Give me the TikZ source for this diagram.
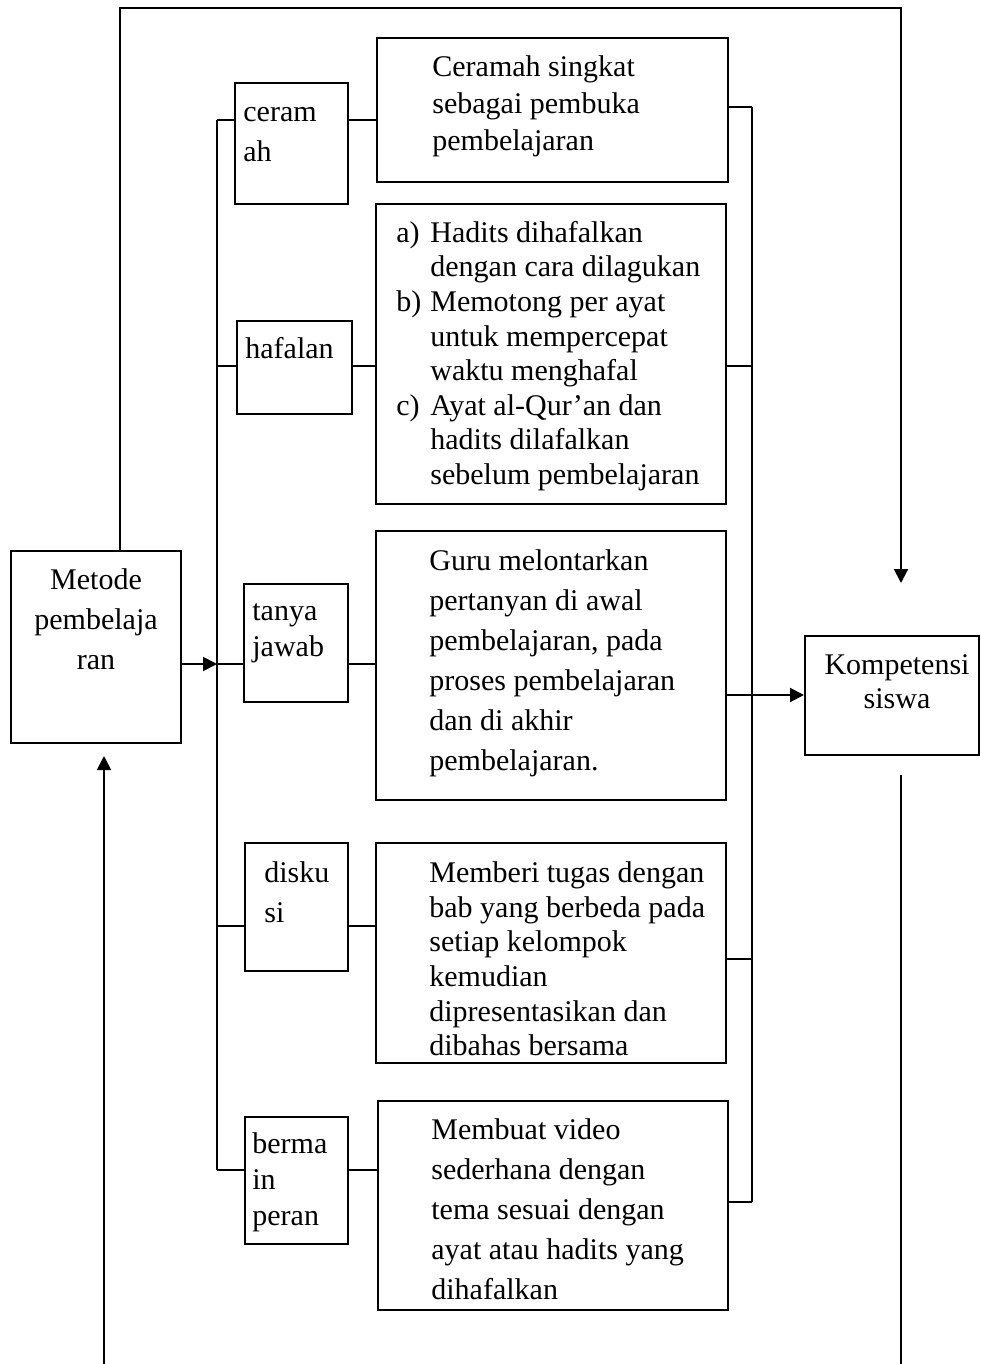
\documentclass[tikz,border=0pt]{standalone}
\usepackage{fontspec}
\setmainfont{Liberation Serif}
\usetikzlibrary{fit,arrows.meta,calc}

\tikzset{
  box/.style={draw, line width=1pt, inner sep=0pt},
  txt/.style={inner sep=0pt, align=left, font=\fontsize{15}{#1}\selectfont},
  txt/.default=20,
  link/.style={line width=1pt},
  arr/.style={line width=1pt, -{Triangle[length=7pt,width=7pt]}}
}

\begin{document}
\begin{tikzpicture}[x=0.5pt, y=-0.5pt]
	\useasboundingbox (0,0) rectangle (980,1364);
	% boxes
	\node[box, fit={(11,551) (181,743)}] (metode) {};
	\node[box, fit={(235,83) (348,204)}] (ceramah) {};
	\node[box, fit={(237,321) (352,414)}] (hafalan) {};
	\node[box, fit={(244,584) (348,702)}] (tanya) {};
	\node[box, fit={(245,843) (348,971)}] (diskusi) {};
	\node[box, fit={(245,1117) (348,1244)}] (bermain) {};
	\node[box, fit={(377,38) (728,182)}] (rCeramah) {};
	\node[box, fit={(376,204) (726,504)}] (rHafalan) {};
	\node[box, fit={(376,531) (726,800)}] (rTanya) {};
	\node[box, fit={(376,843) (726,1063)}] (rDiskusi) {};
	\node[box, fit={(378,1101) (728,1310)}] (rBermain) {};
	\node[box, fit={(805,636) (979,755)}] (komp) {};
	% texts
	\node[txt, align=center] (metodeT) at (96,619) {Metode\\pembelaja\\ran};
	\node[txt, anchor=west] (ceramahT) at (243,135) {ceram\\ah};
	\node[txt, anchor=west] (hafalanT) at (245,348) {hafalan};
	\node[txt=18, anchor=west] (tanyaT) at (252,633) {tanya\\jawab};
	\node[txt, anchor=west] (diskusiT) at (264,892) {disku\\si};
	\node[txt=18, anchor=west] (bermainT) at (252,1182) {berma\\in\\peran};
	\node[txt=18.5, anchor=west] (rCeramahT) at (432,106) {Ceramah singkat\\sebagai pembuka\\pembelajaran};
	\node[txt=17.3, anchor=west] (rHafalanT) at (396,356) {\makebox[17pt][l]{a)}Hadits dihafalkan\\
		\hspace*{17pt}dengan cara dilagukan\\
		\makebox[17pt][l]{b)}Memotong per ayat\\
		\hspace*{17pt}untuk mempercepat\\
		\hspace*{17pt}waktu menghafal\\
		\makebox[17pt][l]{c)}Ayat al-Qur’an dan\\
		\hspace*{17pt}hadits dilafalkan\\
		\hspace*{17pt}sebelum pembelajaran};
	\node[txt, anchor=west] (rTanyaT) at (429,663) {Guru melontarkan\\pertanyan di awal\\pembelajaran, pada\\proses pembelajaran\\dan di akhir\\pembelajaran.};
	\node[txt=17.3, anchor=west] (rDiskusiT) at (429,959) {Memberi tugas dengan\\bab yang berbeda pada\\setiap kelompok\\kemudian\\dipresentasikan dan\\dibahas bersama};
	\node[txt, anchor=west] (rBermainT) at (431,1209) {Membuat video\\sederhana dengan\\tema sesuai dengan\\ayat atau hadits yang\\dihafalkan};
	\node[txt=17, align=center] (kompT) at (897,682) {Kompetensi\\siswa};
	% outer loop
	\coordinate (topL) at (120,8);
	\coordinate (topR) at (901,8);
	\coordinate (topEnd) at (901,583);
	\coordinate (botRStart) at (901,775);
	\coordinate (botR) at (901,1364);
	\coordinate (botL) at (104,1364);
	\coordinate (botLEnd) at (104,756);
	\draw[arr] (metode.north -| topL) -- (topL) -- (topR) -- (topEnd);
	\draw[link] (botRStart) -- (botR);
	\draw[arr] (botL) -- (botLEnd);
	% left bus
	\coordinate (busTop) at (217,120);
	\coordinate (busB) at (217,366);
	\coordinate (busIn) at (217,664);
	\coordinate (busD) at (217,926);
	\coordinate (busBot) at (217,1170);
	\draw[arr] (metode.east |- busIn) -- (busIn);
	\draw[link] (busTop) -- (busBot);
	\draw[link] (busTop) -- (busTop -| ceramah.west);
	\draw[link] (busB) -- (busB -| hafalan.west);
	\draw[link] (busIn) -- (busIn -| tanya.west);
	\draw[link] (busD) -- (busD -| diskusi.west);
	\draw[link] (busBot) -- (busBot -| bermain.west);
	% left to right boxes
	\draw[link] (ceramah.east |- busTop) -- (busTop -| rCeramah.west);
	\draw[link] (hafalan.east |- busB) -- (busB -| rHafalan.west);
	\draw[link] (tanya.east |- busIn) -- (busIn -| rTanya.west);
	\draw[link] (diskusi.east |- busD) -- (busD -| rDiskusi.west);
	\draw[link] (bermain.east |- busBot) -- (busBot -| rBermain.west);
	% right bus
	\coordinate (outTop) at (752,107);
	\coordinate (outB) at (752,366);
	\coordinate (outC) at (752,695);
	\coordinate (outD) at (752,959);
	\coordinate (outBot) at (752,1202);
	\draw[link] (outTop) -- (outBot);
	\draw[link] (rCeramah.east |- outTop) -- (outTop);
	\draw[link] (rHafalan.east |- outB) -- (outB);
	\draw[link] (rDiskusi.east |- outD) -- (outD);
	\draw[link] (rBermain.east |- outBot) -- (outBot);
	\draw[arr] (rTanya.east |- outC) -- (outC -| komp.west);
\end{tikzpicture}
\end{document}
